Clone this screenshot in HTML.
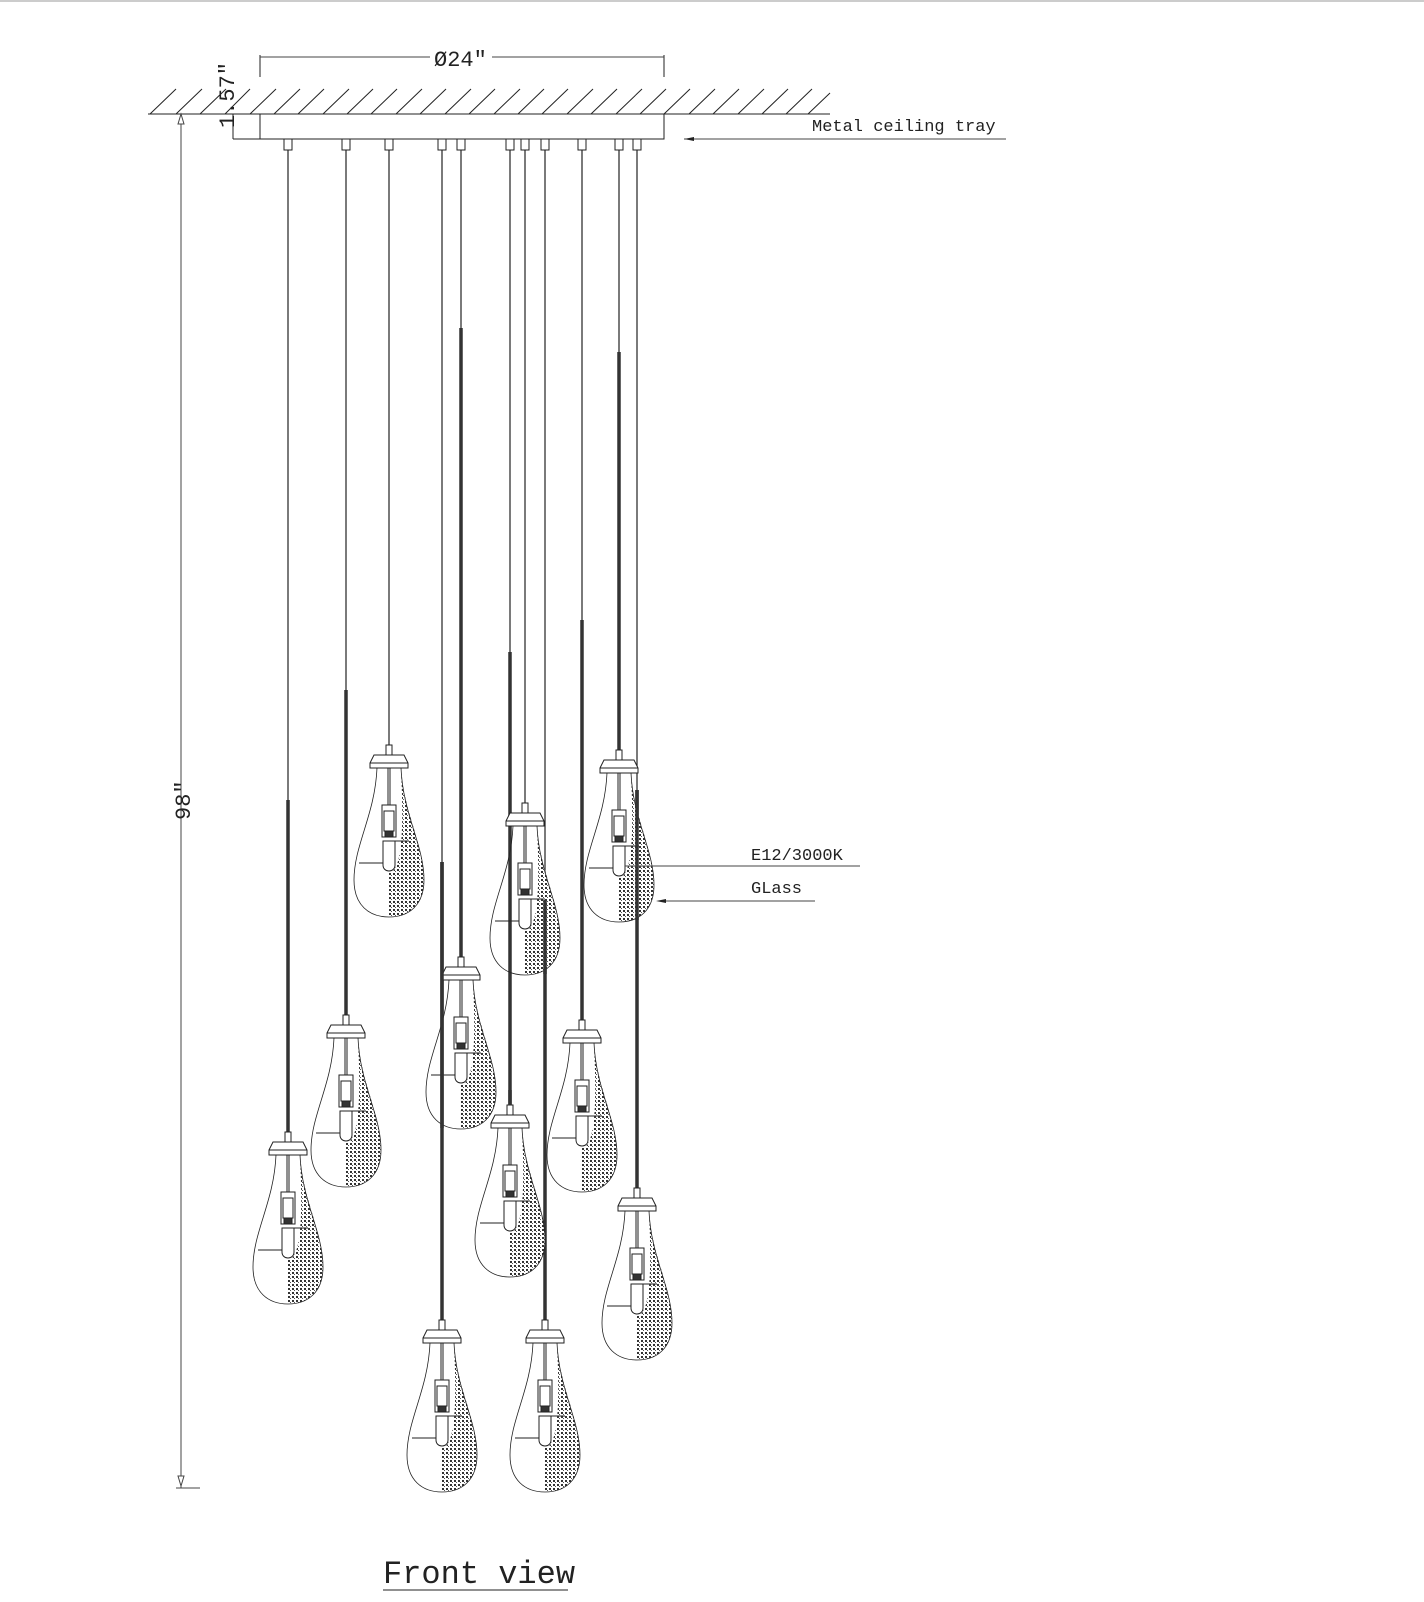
<!DOCTYPE html>
<html><head><meta charset="utf-8"><style>
html,body{margin:0;padding:0;background:#fff;width:1424px;height:1602px;overflow:hidden;}
svg{display:block;position:absolute;left:0;top:0;}
text{font-family:"Liberation Mono","DejaVu Sans Mono",monospace;fill:#222;}
</style></head><body>
<svg width="1424" height="1602" viewBox="0 0 1424 1602" xmlns="http://www.w3.org/2000/svg">
<defs>
<pattern id="st" width="4" height="4" patternUnits="userSpaceOnUse">
<rect width="4" height="4" fill="#fff"/><rect x="0" y="0" width="2" height="2" fill="#333"/><rect x="2" y="2" width="1" height="1" fill="#555"/>
</pattern>
<g id="p" fill="none" stroke="#222" stroke-width="1">
<rect x="-3" y="0" width="6" height="10" fill="#fff"/>
<path d="M-15,10 L15,10 L19,18 L19,23 L-19,23 L-19,18 Z" fill="#fff"/>
<line x1="-19" y1="18" x2="19" y2="18"/>
<path d="M12,26 C16,70 35,100 35,135 C35,160 20,172 0,172 L0,128 C10,128 16,100 12,26 Z" fill="url(#st)" stroke="none"/>
<path d="M-12,23 C-14,70 -35,100 -35,135 C-35,160 -20,172 0,172 C20,172 35,160 35,135 C35,100 14,70 12,23" stroke-width="0.8"/>
<line x1="-1" y1="23" x2="-1" y2="60"/><line x1="1" y1="23" x2="1" y2="60"/>
<rect x="-7" y="60" width="14" height="32" fill="#fff"/>
<rect x="-5" y="66" width="10" height="20"/>
<rect x="-4" y="86" width="8" height="6" fill="#333"/>
<path d="M-6,96 L-6,120 C-6,128 6,128 6,120 L6,96 Z" fill="#fff"/>
<line x1="-30" y1="118" x2="-6" y2="118"/>
<line x1="6" y1="96" x2="20" y2="96"/>
</g>
</defs>
<line x1="0" y1="1" x2="1424" y2="1" stroke="#999"/>
<line x1="148" y1="114" x2="830" y2="114" stroke="#222"/>
<g stroke="#222" stroke-width="1">
<line x1="150" y1="114" x2="176" y2="89"/><line x1="176" y1="114" x2="202" y2="89"/><line x1="200" y1="114" x2="226" y2="89"/>
<line x1="225" y1="114" x2="250" y2="89"/><line x1="250" y1="114" x2="276" y2="89"/><line x1="274" y1="114" x2="300" y2="89"/>
<line x1="298" y1="114" x2="324" y2="89"/><line x1="323" y1="114" x2="349" y2="89"/><line x1="347" y1="114" x2="373" y2="89"/>
<line x1="371" y1="114" x2="397" y2="89"/><line x1="396" y1="114" x2="422" y2="89"/><line x1="420" y1="114" x2="446" y2="89"/>
<line x1="445" y1="114" x2="471" y2="89"/><line x1="469" y1="114" x2="495" y2="89"/><line x1="494" y1="114" x2="520" y2="89"/>
<line x1="518" y1="114" x2="544" y2="89"/><line x1="542" y1="114" x2="568" y2="89"/><line x1="567" y1="114" x2="593" y2="89"/>
<line x1="591" y1="114" x2="617" y2="89"/><line x1="616" y1="114" x2="642" y2="89"/><line x1="640" y1="114" x2="666" y2="89"/>
<line x1="664" y1="114" x2="690" y2="89"/><line x1="689" y1="114" x2="715" y2="89"/><line x1="713" y1="114" x2="739" y2="89"/>
<line x1="738" y1="114" x2="764" y2="89"/><line x1="762" y1="114" x2="788" y2="89"/><line x1="786" y1="114" x2="812" y2="89"/>
<line x1="808" y1="114" x2="830" y2="93"/>
</g>
<line x1="260" y1="55" x2="260" y2="77" stroke="#222"/><line x1="664" y1="55" x2="664" y2="77" stroke="#222"/>
<line x1="260" y1="57" x2="430" y2="57" stroke="#444"/><line x1="492" y1="57" x2="664" y2="57" stroke="#444"/>
<text x="434" y="66" font-size="22">Ø24″</text>
<rect x="260" y="114" width="404" height="25" fill="#fff" stroke="#222"/>
<line x1="233" y1="139" x2="260" y2="139" stroke="#222"/>
<line x1="233" y1="114" x2="233" y2="139" stroke="#222"/>
<text transform="translate(234,128) rotate(-90)" font-size="22">1.57″</text>
<line x1="684" y1="139" x2="1006" y2="139" stroke="#444"/>
<path d="M684,139 L694,137 L694,141 Z" fill="#222"/>
<text x="812" y="131" font-size="17">Metal ceiling tray</text>
<line x1="181" y1="118" x2="181" y2="1488" stroke="#444"/>
<line x1="176" y1="1488" x2="200" y2="1488" stroke="#444"/>
<path d="M181,114 L178,124 L184,124 Z" fill="#fff" stroke="#444"/>
<path d="M181,1486 L178,1476 L184,1476 Z" fill="#fff" stroke="#444"/>
<text transform="translate(190,820) rotate(-90)" font-size="22">98″</text>
<g stroke="#222" stroke-width="1.2">
<line x1="288" y1="139" x2="288" y2="800"/><line x1="346" y1="139" x2="346" y2="690"/><line x1="389" y1="139" x2="389" y2="745"/>
<line x1="442" y1="139" x2="442" y2="862"/><line x1="461" y1="139" x2="461" y2="328"/><line x1="510" y1="139" x2="510" y2="652"/>
<line x1="525" y1="139" x2="525" y2="803"/><line x1="545" y1="139" x2="545" y2="900"/><line x1="582" y1="139" x2="582" y2="620"/>
<line x1="619" y1="139" x2="619" y2="352"/><line x1="637" y1="139" x2="637" y2="790"/>
</g>
<g stroke="#333" stroke-width="3.5">
<line x1="288" y1="800" x2="288" y2="1132"/><line x1="346" y1="690" x2="346" y2="1015"/>
<line x1="442" y1="862" x2="442" y2="1320"/><line x1="461" y1="328" x2="461" y2="957"/><line x1="510" y1="652" x2="510" y2="1105"/>
<line x1="545" y1="900" x2="545" y2="1320"/><line x1="582" y1="620" x2="582" y2="1020"/>
<line x1="619" y1="352" x2="619" y2="750"/><line x1="637" y1="790" x2="637" y2="1188"/>
</g>
<g fill="#fff" stroke="#222">
<rect x="284" y="139" width="8" height="11"/><rect x="342" y="139" width="8" height="11"/><rect x="385" y="139" width="8" height="11"/>
<rect x="438" y="139" width="8" height="11"/><rect x="457" y="139" width="8" height="11"/><rect x="506" y="139" width="8" height="11"/>
<rect x="521" y="139" width="8" height="11"/><rect x="541" y="139" width="8" height="11"/><rect x="578" y="139" width="8" height="11"/>
<rect x="615" y="139" width="8" height="11"/><rect x="633" y="139" width="8" height="11"/>
</g>
<use href="#p" x="389" y="745"/><use href="#p" x="525" y="803"/><use href="#p" x="619" y="750"/>
<use href="#p" x="461" y="957"/><use href="#p" x="346" y="1015"/><use href="#p" x="582" y="1020"/>
<use href="#p" x="288" y="1132"/><use href="#p" x="510" y="1105"/><use href="#p" x="637" y="1188"/>
<use href="#p" x="442" y="1320"/><use href="#p" x="545" y="1320"/>
<g stroke="#333" stroke-width="3.5"><line x1="637" y1="790" x2="637" y2="920"/><line x1="545" y1="900" x2="545" y2="974"/><line x1="442" y1="862" x2="442" y2="1128"/><line x1="510" y1="1090" x2="510" y2="1105"/></g>
<line x1="625" y1="866" x2="860" y2="866" stroke="#444"/>
<text x="751" y="860" font-size="17">E12/3000K</text>
<line x1="660" y1="901" x2="815" y2="901" stroke="#444"/>
<path d="M656,901 L666,899 L666,903 Z" fill="#222"/>
<text x="751" y="893" font-size="17">GLass</text>
<text x="383" y="1583" font-size="32" font-family="Liberation Serif,serif">Front view</text>
<line x1="383" y1="1590" x2="568" y2="1590" stroke="#222"/>
</svg>
</body></html>
